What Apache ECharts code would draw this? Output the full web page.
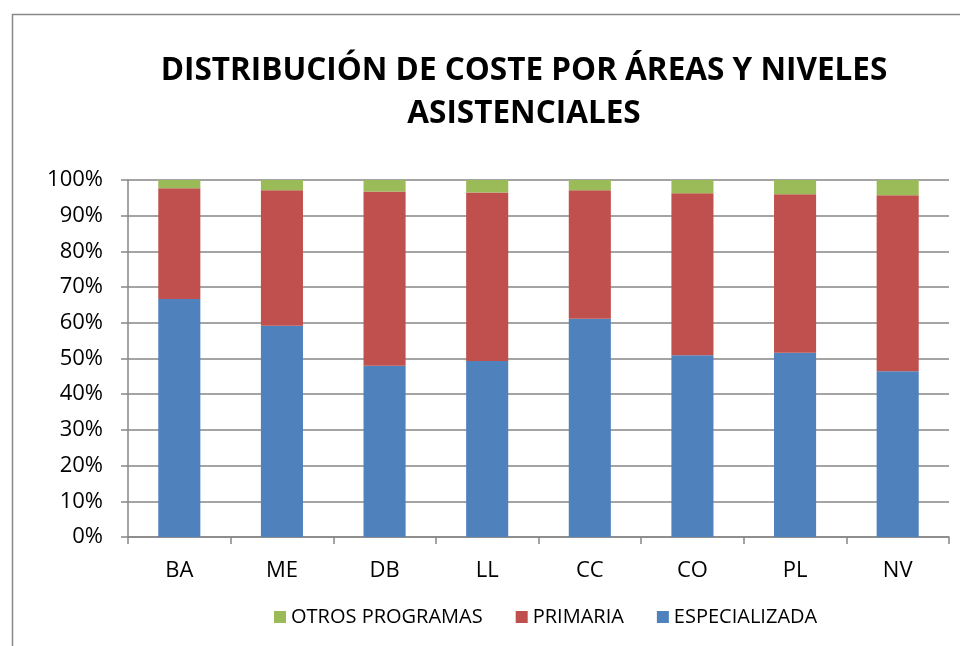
<!DOCTYPE html>
<html>
<head>
<meta charset="utf-8">
<script src="https://cdn.jsdelivr.net/npm/echarts@6/dist/echarts.min.js"></script>
<style>
  html, body { margin: 0; padding: 0; background: #fff; }
  #chart { width: 960px; height: 646px; }
</style>
</head>
<body>
<div id="chart"></div>
<script>
// areas
const categories = ['BA', 'ME', 'DB', 'LL', 'CC', 'CO', 'PL', 'NV'];
// share of cost (%)
const especializada = [66.7, 59.2, 48.0, 49.3, 61.1, 50.9, 51.6, 46.4];
const primaria = [31.0, 37.9, 48.8, 47.2, 36.0, 45.4, 44.4, 49.3];
const otros = [2.3, 2.9, 3.2, 3.5, 2.9, 3.7, 4.0, 4.3];

const font = '"Open Sans", sans-serif';
let chart = echarts.init(document.getElementById('chart'));

chart.setOption({
  animation: false,
  color: ['#4F81BD', '#C0504D', '#9BBB59'],
  title: {
    text: 'DISTRIBUCIÓN DE COSTE POR ÁREAS Y NIVELES\nASISTENCIALES',
    left: 519,
    top: 45,
    textAlign: 'center',
    textStyle: {
      fontFamily: font,
      fontWeight: 'bold',
      fontSize: 31.5,
      lineHeight: 43,
      color: '#000'
    }
  },
  graphic: [{
    type: 'rect',
    shape: {x: 12.5, y: 14.5, width: 1000, height: 700},
    style: {fill: 'none', stroke: '#888', lineWidth: 1.5},
    silent: true
  }],
  legend: {
    data: ['OTROS PROGRAMAS', 'PRIMARIA', 'ESPECIALIZADA'],
    top: 602,
    left: 269,
    itemWidth: 12,
    itemHeight: 12,
    itemGap: 33,
    icon: 'rect',
    textStyle: {fontFamily: font, fontSize: 20, color: '#000'}
  },
  grid: {left: 128, right: 11, top: 180, bottom: 109},
  xAxis: {
    type: 'category',
    data: categories,
    axisLine: {lineStyle: {color: '#868686', width: 1.5}},
    axisTick: {show: true, length: 7, lineStyle: {color: '#868686', width: 1.5}},
    axisLabel: {fontFamily: font, fontSize: 22, color: '#000', margin: 23}
  },
  yAxis: {
    type: 'value',
    min: 0,
    max: 100,
    interval: 10,
    axisLine: {show: true, lineStyle: {color: '#868686', width: 1.5}},
    axisTick: {show: true, length: 7, lineStyle: {color: '#868686', width: 1.5}},
    splitLine: {lineStyle: {color: '#868686', width: 1.5}},
    axisLabel: {fontFamily: font, fontSize: 22, color: '#000', margin: 25, formatter: '{value}%'}
  },
  series: [
    {name: 'ESPECIALIZADA', type: 'bar', stack: 'total', barWidth: '41%', data: especializada},
    {name: 'PRIMARIA', type: 'bar', stack: 'total', data: primaria},
    {name: 'OTROS PROGRAMAS', type: 'bar', stack: 'total', data: otros}
  ]
});
</script>
</body>
</html>
